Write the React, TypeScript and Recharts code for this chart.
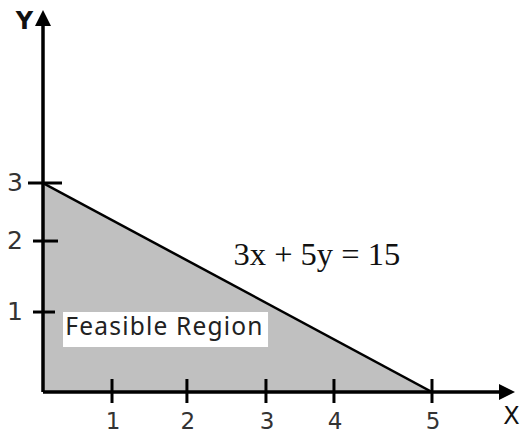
import React from 'react';
import { ComposedChart, Area, XAxis, YAxis, ReferenceLine, ReferenceDot } from 'recharts';

// Constraint line 3x + 5y = 15 bounding the feasible region
const regionData = [
  { x: 0, y: 3 },
  { x: 5, y: 0 },
];

// Tick marks as drawn in the picture (positions in data units) and their labels
const xTickValues = [0.887, 1.85, 2.866, 3.74, 5];
const xTickLabels = ['1', '2', '3', '4', '5'];
const yTickValues = [1.148, 2.167, 3];
const yTickLabels = ['1', '2', '3'];

const equationText = '3x + 5y = 15';
const regionText = 'Feasible Region';
const xAxisText = 'X';
const yAxisText = 'Y';

// Axis extents (arrow tips) in data units
const X_MAX = 6.067;
const Y_MAX = 5.483;

const equationPos = { x: 3.52, y: 1.93 };
const regionLabelPos = { x: 1.575, y: 0.897 };

const XTick = (props: any) => {
  const { x, y, index } = props;
  return (
    <g>
      <line x1={x} y1={y - 13} x2={x} y2={y + 11} stroke="#000" strokeWidth={3} />
      <text
        x={x + 1}
        y={y + 29}
        textAnchor="middle"
        dominantBaseline="central"
        style={{ fontFamily: 'DejaVu Sans', fontSize: '23px' }}
        fill="#333"
      >
        {xTickLabels[index]}
      </text>
    </g>
  );
};

const yTickLens = [
  [10, 12],
  [10, 15],
  [15, 19],
];

const YTick = (props: any) => {
  const { x, y, index } = props;
  const [l, r] = yTickLens[index] || [10, 14];
  return (
    <g>
      <line x1={x - l} y1={y} x2={x + r} y2={y} stroke="#000" strokeWidth={3} />
      <text
        x={x - 28}
        y={y - 0.5}
        textAnchor="middle"
        dominantBaseline="central"
        style={{ fontFamily: 'DejaVu Sans', fontSize: '25px' }}
        fill="#333"
      >
        {yTickLabels[index]}
      </text>
    </g>
  );
};

const makeArrow = (label: string, dx: number, dy: number, bold: boolean, size: number) => (props: any) => {
  const { x1, y1, x2, y2 } = props;
  const len = Math.hypot(x2 - x1, y2 - y1) || 1;
  const ux = (x2 - x1) / len;
  const uy = (y2 - y1) / len;
  const head = 16;
  const half = 8;
  const bx = x2 - ux * head;
  const by = y2 - uy * head;
  const px = -uy;
  const py = ux;
  return (
    <g>
      <line x1={x1} y1={y1} x2={bx + ux * 2} y2={by + uy * 2} stroke="#000" strokeWidth={3.5} />
      <polygon
        points={`${x2},${y2} ${bx + px * half},${by + py * half} ${bx - px * half},${by - py * half}`}
        fill="#000"
      />
      <text
        x={x2 + dx}
        y={y2 + dy}
        textAnchor="middle"
        dominantBaseline="central"
        fontFamily="DejaVu Sans"
        fontWeight={bold ? 'bold' : 'normal'}
        fontSize={size}
        fill="#111"
      >
        {label}
      </text>
    </g>
  );
};

const xArrow = makeArrow(xAxisText, -3.5, 24, false, 24);
const yArrow = makeArrow(yAxisText, -18.5, 11, true, 24);

const EquationShape = (props: any) => {
  const { cx, cy } = props;
  return (
    <text
      x={cx}
      y={cy + 7.5}
      textAnchor="middle"
      fontFamily="Liberation Serif"
      fontSize={32.5}
      fill="#111"
    >
      {equationText}
    </text>
  );
};

const RegionLabelShape = (props: any) => {
  const { cx, cy } = props;
  return (
    <g>
      <rect x={cx - 102.5} y={cy - 17.5} width={205} height={35} fill="#fff" />
      <text
        x={cx - 1}
        y={cy + 5.5}
        textAnchor="middle"
        fontFamily="Noto Sans"
        fontSize={24.5}
        letterSpacing={1.2}
        fill="#222"
      >
        {regionText}
      </text>
    </g>
  );
};

export default function App() {
  return (
    <div style={{ position: 'absolute', left: 0, top: 0, background: '#fff' }}>
      <ComposedChart
        width={521}
        height={434}
        data={regionData}
        margin={{ top: 10, right: 6, bottom: 0, left: 0 }}
      >
        <XAxis
          dataKey="x"
          type="number"
          domain={[0, X_MAX]}
          ticks={xTickValues}
          interval={0}
          height={42}
          axisLine={false}
          tickLine={false}
          tickSize={0}
          tickMargin={0}
          tick={(p: any) => <XTick {...p} />}
          allowDataOverflow
        />
        <YAxis
          type="number"
          domain={[0, Y_MAX]}
          ticks={yTickValues}
          interval={0}
          width={43}
          axisLine={false}
          tickLine={false}
          tickSize={0}
          tickMargin={0}
          tick={(p: any) => <YTick {...p} />}
          allowDataOverflow
        />
        <Area
          type="linear"
          dataKey="y"
          fill="#c0c0c0"
          fillOpacity={1}
          stroke="#000"
          strokeWidth={2.5}
          isAnimationActive={false}
          dot={false}
          activeDot={false}
        />
        <ReferenceLine
          segment={[{ x: 0, y: 0 }, { x: X_MAX, y: 0 }]}
          ifOverflow="visible"
          shape={xArrow}
        />
        <ReferenceLine
          segment={[{ x: 0, y: 0 }, { x: 0, y: Y_MAX }]}
          ifOverflow="visible"
          shape={yArrow}
        />
        <ReferenceDot
          x={equationPos.x}
          y={equationPos.y}
          ifOverflow="visible"
          shape={EquationShape}
        />
        <ReferenceDot
          x={regionLabelPos.x}
          y={regionLabelPos.y}
          ifOverflow="visible"
          shape={RegionLabelShape}
        />
      </ComposedChart>
    </div>
  );
}
